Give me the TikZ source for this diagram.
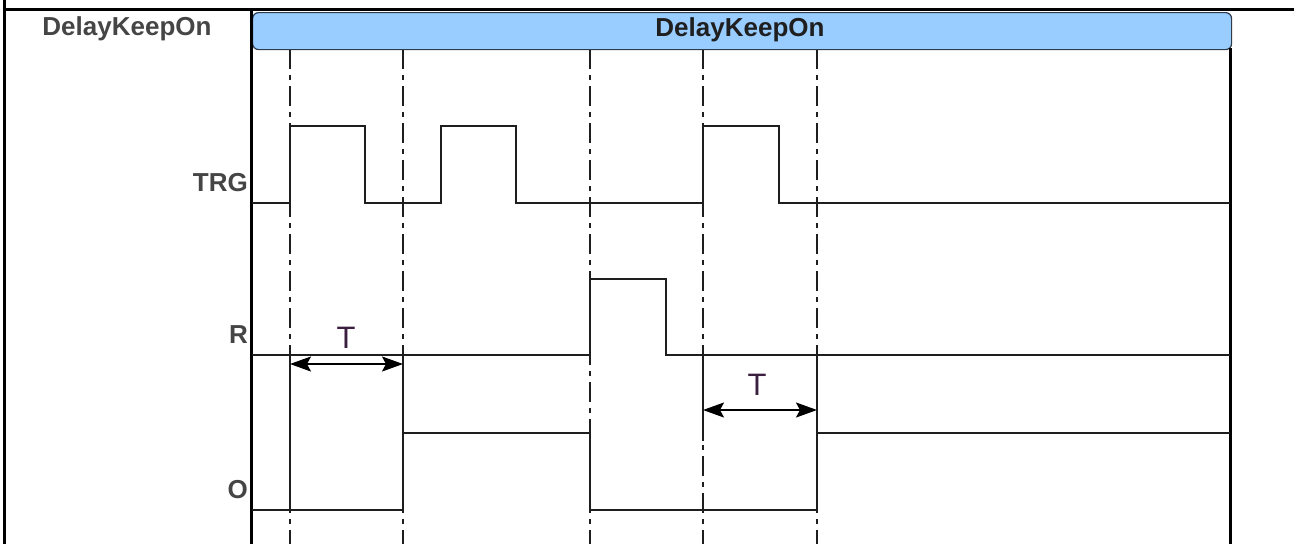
\documentclass[tikz,border=0pt]{standalone}
\usepackage{fontspec}
\setmainfont{Liberation Sans}
\usetikzlibrary{arrows.meta,positioning}
\definecolor{BarBlue}{HTML}{99CCFF}
\definecolor{BarEdge}{HTML}{2E3B4A}
\definecolor{TagGray}{HTML}{454545}
\definecolor{WaveInk}{HTML}{1E1E1E}
\definecolor{TeeInk}{HTML}{3B1F3F}
\tikzset{
  framerule/.style={line width=3pt,draw=black},
  wave/.style={line width=2pt,draw=WaveInk,line join=miter},
  extline/.style={line width=2pt,draw=WaveInk},
  gridline/.style={line width=2pt,draw=WaveInk,dash pattern=on 20pt off 6pt on 5pt off 6pt},
  titlebar/.style={draw=BarEdge,line width=1.2pt,fill=BarBlue,rounded corners=6pt,inner sep=0pt,anchor=north west},
  bigtag/.style={font=\fontsize{26}{30}\selectfont\bfseries,text=TagGray,inner sep=0pt,anchor=base},
  sigtag/.style={font=\fontsize{26}{30}\selectfont\bfseries,text=TagGray,inner sep=0pt,anchor=base east},
  bartag/.style={font=\fontsize{26}{30}\selectfont\bfseries,text=black!88,inner sep=0pt,anchor=base},
  teetag/.style={font=\fontsize{31}{36}\selectfont,text=TeeInk,inner sep=0pt,anchor=base},
  timearrow/.style={{Stealth[length=21pt,width=15pt,inset=4pt]}-{Stealth[length=21pt,width=15pt,inset=4pt]},line width=2pt,draw=black}
}
\begin{document}
\begin{tikzpicture}[x=1pt,y=-1pt]
\useasboundingbox (0,0) rectangle (1294,544);
% dash-dot time marks
\foreach \tx in {290,403,590,703,817}
  \draw[gridline] (\tx,49) -- (\tx,544);
% header
\node[titlebar,minimum width=979pt,minimum height=37pt] (bar) at (252,12) {};
\node[bartag] (bartext) at (740,36) {DelayKeepOn};
\node[bigtag] (blockname) at (127,35) {DelayKeepOn};
% frame
\draw[framerule] (4,0) -- (4,544);
\draw[framerule] (3,9) -- (1294,9);
\draw[framerule] (251,10) -- (251,544);
\draw[line width=2.5pt] (1230.5,48) -- (1230.5,544);
% signal names
\node[sigtag] (trg) at (248,191) {TRG};
\node[sigtag] (rst) at (248,343) {R};
\node[sigtag] (out) at (248,498) {O};
% waveforms
\draw[wave] (252,203) -| (290,126) -| (365,203) -| (441,126) -| (516,203) -| (703,126) -| (779,203) -- (1230,203);
\draw[wave] (252,355) -| (590,279) -| (666,355) -- (1230,355);
\draw[wave] (252,510) -| (403,433) -| (590,510) -| (817,433) -- (1230,433);
% delay T
\draw[extline] (290,345) -- (290,510);
\draw[extline] (403,345) -- (403,433);
\draw[extline] (703,365) -- (703,441);
\draw[extline] (817,365) -- (817,433);
\coordinate (t1a) at (290,364);
\coordinate (t1b) at (403,364);
\coordinate (t2a) at (703,410);
\coordinate (t2b) at (817,410);
\draw[timearrow] (t1a) -- (t1b);
\draw[timearrow] (t2a) -- (t2b);
\node[teetag] (tee1) at (346,348) {T};
\node[teetag] (tee2) at (757,395) {T};
\end{tikzpicture}
\end{document}
